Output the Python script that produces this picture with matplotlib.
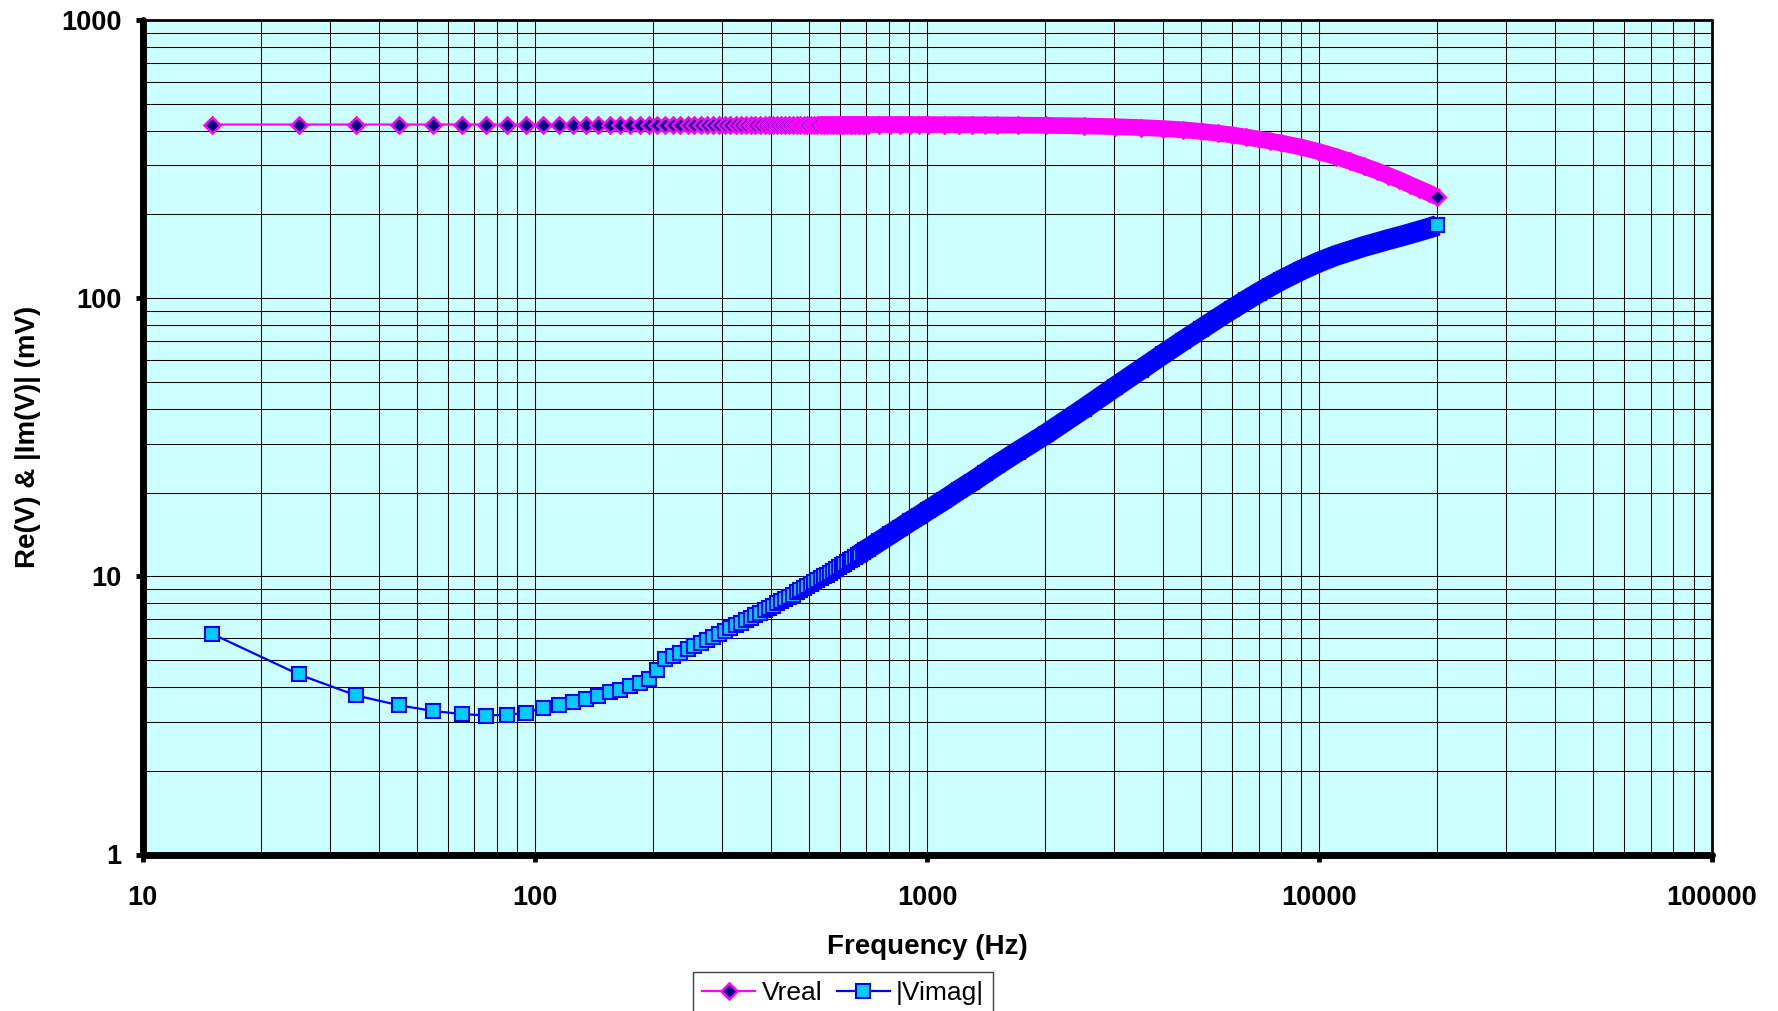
import matplotlib
matplotlib.use("Agg")
import matplotlib.pyplot as plt
from matplotlib.ticker import FixedLocator, FixedFormatter, NullFormatter

plt.rcParams['font.family'] = ['Liberation Sans', 'DejaVu Sans']

# ---------------- data ----------------
freq_hz = [15, 25, 35, 45, 55, 65, 75, 85, 95, 105,
           115, 125, 135, 145, 155, 165, 175, 185, 195, 205,
           215, 225, 235, 245, 255, 265, 275, 285, 295, 305,
           315, 325, 335, 345, 355, 365, 375, 385, 395, 405,
           415, 425, 435, 445, 455, 465, 475, 485, 495, 505,
           515, 525, 535, 545, 555, 565, 575, 585, 595, 605,
           615, 625, 635, 645, 655, 665, 675, 685, 695, 705,
           755, 805, 855, 905, 955, 1005, 1105, 1205, 1305, 1405,
           1505, 1705, 2005, 2505, 3005, 3505, 4005, 4505, 5005, 5505,
           6005, 6505, 7005, 7505, 8005, 9005, 10005, 11005, 12005, 13005,
           14005, 15005, 16005, 17005, 18005, 19005, 20005]

v_real_mv = [421, 421, 421, 421, 421, 421, 421, 421, 421, 421,
             421, 421, 421, 421, 421, 421, 421, 421, 421, 421,
             421, 421, 421, 421, 421, 421, 421, 421, 421, 421,
             421, 421, 421, 421, 421, 421, 421, 421, 421, 421,
             421, 421, 421, 421, 421, 421, 421, 421, 421, 421,
             421, 421, 421, 421, 421, 421, 421, 421, 421, 421,
             421, 421, 421, 421, 421, 421, 421, 421, 421, 421,
             421, 421, 421, 421, 421, 421, 420.5, 420.5, 420, 420,
             419.5, 419, 418, 416, 413.5, 410.5, 407, 403, 397.5, 392,
             386, 379.5, 373, 367, 361, 349, 336, 323, 310, 298,
             287, 276, 266, 256, 247, 239, 231]

v_imag_mv = [6.22, 4.44, 3.73, 3.44, 3.28, 3.20, 3.16, 3.18, 3.23, 3.37,
             3.46, 3.52, 3.63, 3.70, 3.84, 3.91, 4.02, 4.13, 4.29, 4.59,
             5.06, 5.15, 5.30, 5.46, 5.61, 5.76, 5.91, 6.06, 6.20, 6.35,
             6.50, 6.66, 6.81, 6.96, 7.11, 7.26, 7.41, 7.56, 7.70, 7.85,
             8.00, 8.15, 8.30, 8.45, 8.60, 8.75, 8.90, 9.05, 9.20, 9.35,
             9.51, 9.67, 9.83, 9.99, 10.15, 10.31, 10.47, 10.63, 10.79, 10.95,
             11.11, 11.27, 11.43, 11.59, 11.75, 11.91, 12.07, 12.23, 12.39, 12.55,
             13.35, 14.15, 14.95, 15.75, 16.5, 17.3, 18.8, 20.4, 21.9, 23.5,
             25.1, 28.1, 32.4, 40.0, 47.8, 55.4, 63.0, 70.4, 77.6, 84.7,
             91.6, 98.2, 104.6, 110.5, 116.2, 126.3, 135.0, 142.3, 148.0, 153.5,
             158.0, 162.5, 166.5, 170.5, 174.5, 178.5, 182.5]

series_names = ["Vreal", "|Vimag|"]
x_ticks = [10, 100, 1000, 10000, 100000]
x_tick_labels = ["10", "100", "1000", "10000", "100000"]
y_ticks = [1, 10, 100, 1000]
y_tick_labels = ["1", "10", "100", "1000"]
x_label = "Frequency (Hz)"
y_label = "Re(V) & |Im(V)| (mV)"

# ---------------- figure ----------------
W, H = 1778, 1011
fig = plt.figure(figsize=(W / 100, H / 100), dpi=100)
fig.patch.set_facecolor("white")
ax = fig.add_axes([142.7 / W, 1 - 854.5 / H, (1711.5 - 142.7) / W, (854.5 - 20) / H])
ax.set_facecolor("#CCFFFF")
ax.set_xscale("log")
ax.set_yscale("log")
ax.set_xlim(10, 100000)
ax.set_ylim(1, 1000)

# grid
ax.grid(True, which="both", color="black", linewidth=0.75, zorder=0)
ax.set_axisbelow(True)

MAG = "#FF00FF"
NAVY = "#000080"
BLUE = "#0000FF"
SKY = "#00CCFF"

D_MS = 8.0
D_MEW = 1.8
S_MS = 9.4
S_MEW = 1.5

# Vreal
l1, = ax.plot(freq_hz, v_real_mv, color=MAG, lw=1.6, marker="D", ms=D_MS,
              mfc=NAVY, mec=MAG, mew=D_MEW, zorder=3)
i_r = freq_hz.index(525)
ax.plot(freq_hz[i_r:], v_real_mv[i_r:], color=MAG, lw=12.0,
        solid_capstyle="butt", solid_joinstyle="round", zorder=3.5)
ax.plot(freq_hz[-1:], v_real_mv[-1:], ls="none", marker="D", ms=D_MS,
        mfc=NAVY, mec=MAG, mew=D_MEW, zorder=3.6)

# |Vimag|
l2, = ax.plot(freq_hz, v_imag_mv, color=BLUE, lw=1.6, marker="s", ms=S_MS,
              mfc=SKY, mec=BLUE, mew=S_MEW, zorder=4)
i_i = freq_hz.index(665)
ax.plot(freq_hz[i_i:], v_imag_mv[i_i:], color=BLUE, lw=15.0,
        solid_capstyle="butt", solid_joinstyle="round", zorder=4.5)
ax.plot(freq_hz[-1:], v_imag_mv[-1:], ls="none", marker="s", ms=S_MS,
        mfc=SKY, mec=BLUE, mew=S_MEW, zorder=4.6)

# spines
for s in ["left", "bottom"]:
    ax.spines[s].set_linewidth(5)
    ax.spines[s].set_color("black")
for s in ["top", "right"]:
    ax.spines[s].set_linewidth(2)
    ax.spines[s].set_color("black")
for sp in ax.spines.values():
    sp.set_zorder(6)
    sp.set_capstyle("round")

# ticks
ax.xaxis.set_major_locator(FixedLocator(x_ticks))
ax.xaxis.set_major_formatter(FixedFormatter(x_tick_labels))
ax.yaxis.set_major_locator(FixedLocator(y_ticks))
ax.yaxis.set_major_formatter(FixedFormatter(y_tick_labels))
ax.xaxis.set_minor_formatter(NullFormatter())
ax.yaxis.set_minor_formatter(NullFormatter())
ax.tick_params(which="major", direction="out", length=5, width=3.5,
               color="black", labelsize=19.5)
ax.tick_params(axis="x", which="major", pad=17)
ax.tick_params(axis="y", which="major", pad=10)
ax.tick_params(which="minor", length=0)
for lab in ax.get_xticklabels() + ax.get_yticklabels():
    lab.set_fontweight("bold")

# axis labels
fig.text(927 / W, 1 - 947 / H, x_label, ha="center", va="center",
         fontsize=20, fontweight="bold")
fig.text(28 / W, 1 - 437 / H, y_label, ha="center", va="center",
         rotation=90, fontsize=20, fontweight="bold")

# legend
leg = ax.legend([l1, l2], series_names, loc="upper left",
                bbox_to_anchor=(693 / W, 1 - 972 / H),
                bbox_transform=fig.transFigure, ncol=2, fontsize=19,
                frameon=True, fancybox=False, framealpha=1, edgecolor="#404040",
                handlelength=2.0, handletextpad=0.25, columnspacing=0.55,
                borderpad=0.35, borderaxespad=0, numpoints=1)
leg.get_frame().set_linewidth(1.0)

fig.savefig("out.png", dpi=100)
